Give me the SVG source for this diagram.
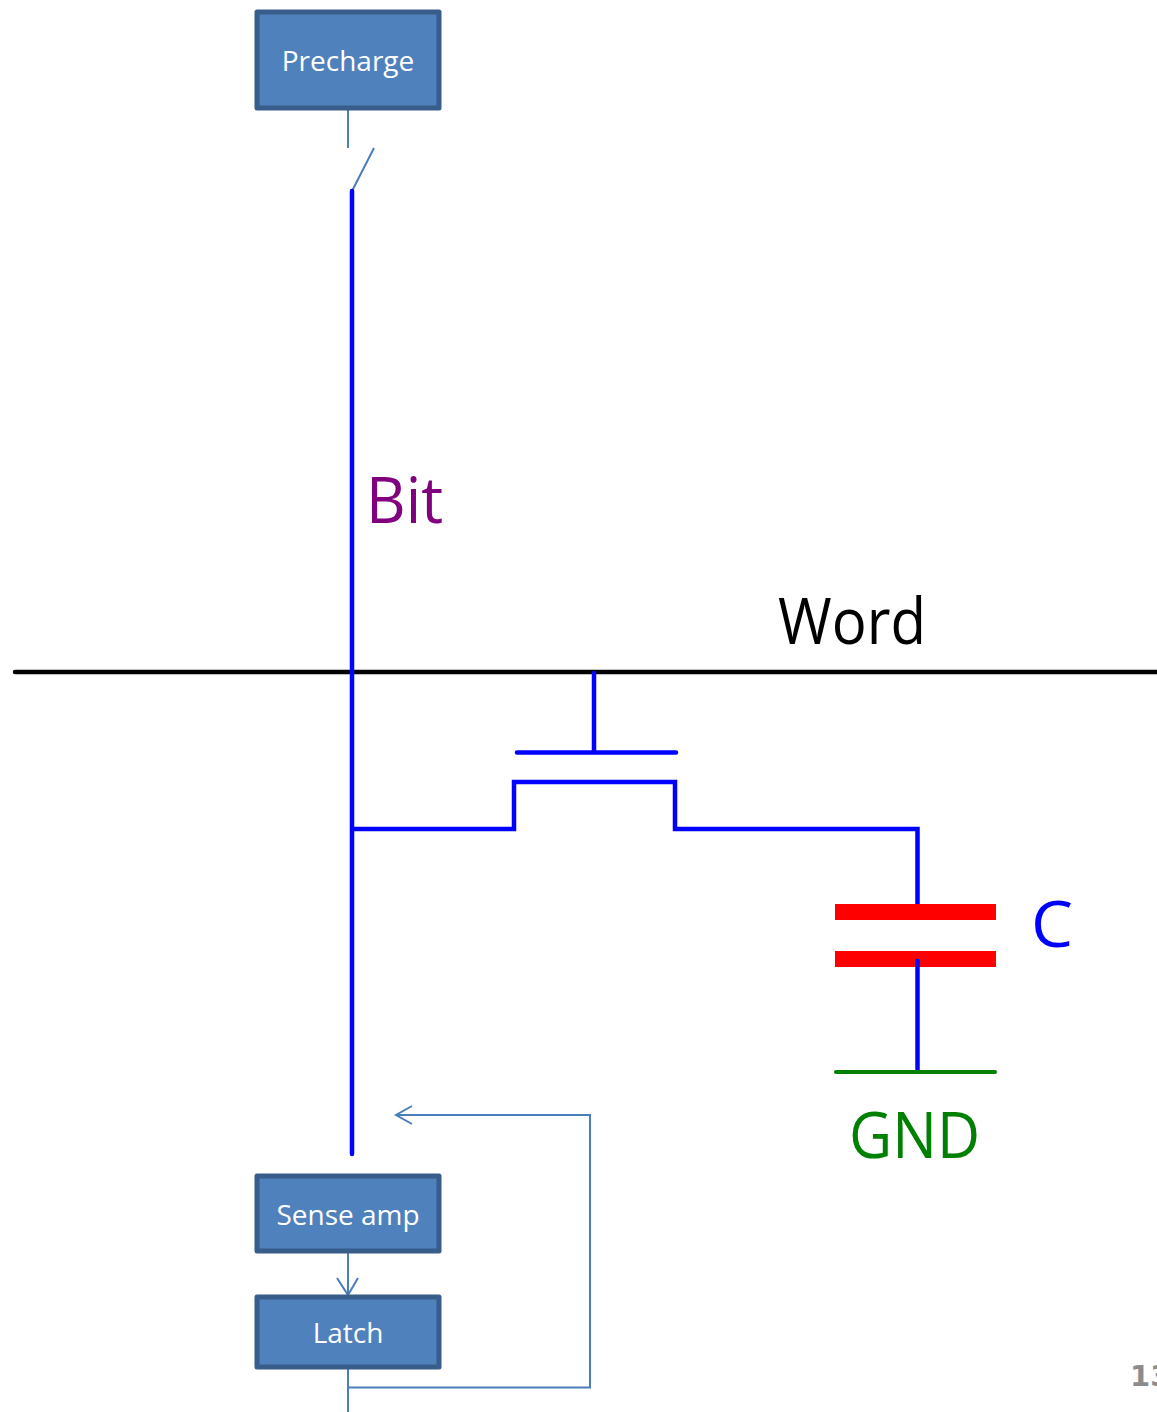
<svg xmlns="http://www.w3.org/2000/svg" width="1157" height="1412" viewBox="0 0 1157 1412">
<style>
.box{fill:#4f81bd;stroke:#385d8a;stroke-width:5;stroke-linejoin:round}
.lbl{font-family:"Open Sans","Noto Sans",sans-serif;fill:#fff;text-anchor:middle;font-size:28px}
.big{font-family:"Open Sans","Noto Sans",sans-serif;font-size:64px}
.thin{fill:none;stroke:#4a7ebb;stroke-width:2}
.w{fill:none;stroke:#0000ff;stroke-width:4.500;stroke-linecap:round}
</style>
<rect width="1157" height="1412" fill="#fff"/>
<g id="connectors">
<path class="thin" d="M348 108V148M374 148L351 193"/>
<path class="thin" d="M348 1252V1295M337 1278L348 1295L358 1278"/>
<path class="thin" d="M348 1367V1412M348 1387.500H590V1115H396M412 1106L396 1115L412 1124"/>
<path d="M15 672H1157" fill="none" stroke="#000" stroke-width="4.500" stroke-linecap="round"/>
<path class="w" d="M352 191V1154"/>
<path class="w" d="M594 673V752M517 752.500H676"/>
<path class="w" d="M353 829H514V782H675V829H917.500V905"/>
<rect x="835" y="904" width="161" height="16" fill="#f00"/>
<rect x="835" y="951" width="161" height="16" fill="#f00"/>
<path class="w" d="M917.500 961V1071"/>
<path d="M836 1072H995" fill="none" stroke="#008000" stroke-width="4" stroke-linecap="round"/>
</g>
<g id="precharge"><rect class="box" x="257" y="12" width="182" height="96"/><text class="lbl" x="348" y="71">Precharge</text></g>
<g id="sense-amp"><rect class="box" x="257" y="1176" width="182" height="75"/><text class="lbl" x="348" y="1225">Sense amp</text></g>
<g id="latch"><rect class="box" x="257" y="1297" width="182" height="70"/><text class="lbl" x="348" y="1343">Latch</text></g>
<g id="bit-label"><text class="big" x="366" y="523" fill="#800080" textLength="77" lengthAdjust="spacingAndGlyphs">Bit</text></g>
<g id="word-label"><text class="big" x="778" y="644" fill="#000" textLength="148" lengthAdjust="spacingAndGlyphs">Word</text></g>
<g id="c-label"><text class="big" x="1031" y="947" fill="#0000ff" textLength="42" lengthAdjust="spacingAndGlyphs">C</text></g>
<g id="gnd-label"><text class="big" x="849" y="1158" fill="#008000" textLength="131" lengthAdjust="spacingAndGlyphs">GND</text></g>
<g id="page-number"><text x="1130" y="1386" font-family="'DejaVu Sans',sans-serif" font-weight="bold" font-size="29" fill="#8c8c8c">13</text></g>
</svg>
